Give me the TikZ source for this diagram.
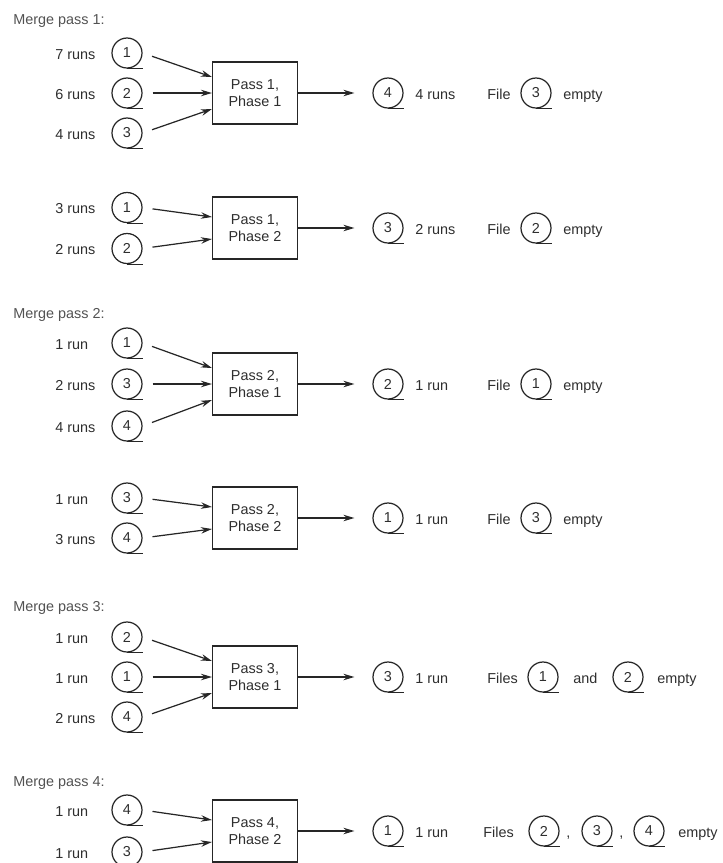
\documentclass[tikz,border=0pt]{standalone}
\usepackage{fontspec}
\setmainfont{Liberation Sans}
\usetikzlibrary{arrows.meta, positioning, calc}

\begin{document}
\begin{tikzpicture}[x=0.02cm, y=-0.02cm,
    every node/.style={font=\fontsize{8.2}{9.5}\selectfont, text=black!82},
    tape/.style={draw=black!85, circle, line width=0.7pt, minimum size=0.6cm, inner sep=0pt},
    passbox/.style={draw=black!85, line width=0.65pt, minimum width=1.7cm, minimum height=1.24cm, align=center, inner sep=0pt},
    lbl/.style={anchor=west, inner sep=0pt, text height=1.6ex, text depth=0.3ex},
    ttl/.style={lbl, text=black!68},
    feed/.style={draw=black!85, line width=0.7pt, -{Stealth[length=2.2mm, width=1.3mm]}},
    tail/.style={draw=black!85, line width=0.7pt}]
\useasboundingbox (0,0) rectangle (723,863);

% merge pass 1
\node[ttl] (mp1) at (13,18) {Merge pass 1:};
\node[passbox] (b1) at (255,93) {Pass 1,\\Phase 1};
\foreach \runs/\num/\dy/\ey [count=\i] in {7 runs/1/-40/-16, 6 runs/2/0/0, 4 runs/3/40/16} {
    \node[tape] (t1\i) at (127,93+\dy) {\num};
    \draw[tail] (t1\i.south) -- ++(16,0);
    \node[lbl] (r1\i) at (55,93+\dy) {\runs};
    \draw[feed, shorten <=0.2cm] (t1\i.east) -- ($(b1.west)+(0,\ey)$);
}

\node[passbox] (b2) at (255,228) {Pass 1,\\Phase 2};
\foreach \runs/\num/\dy/\ey [count=\i] in {3 runs/1/-20.5/-11, 2 runs/2/20.5/11} {
    \node[tape] (t2\i) at (127,228+\dy) {\num};
    \draw[tail] (t2\i.south) -- ++(16,0);
    \node[lbl] (r2\i) at (55,228+\dy) {\runs};
    \draw[feed, shorten <=0.2cm] (t2\i.east) -- ($(b2.west)+(0,\ey)$);
}

% merge pass 2
\node[ttl] (mp2) at (13,312) {Merge pass 2:};
\node[passbox] (b3) at (255,384) {Pass 2,\\Phase 1};
\foreach \runs/\num/\dy/\ey [count=\i] in {1 run/1/-41/-16, 2 runs/3/0/0, 4 runs/4/42/16} {
    \node[tape] (t3\i) at (127,384+\dy) {\num};
    \draw[tail] (t3\i.south) -- ++(16,0);
    \node[lbl] (r3\i) at (55,384+\dy) {\runs};
    \draw[feed, shorten <=0.2cm] (t3\i.east) -- ($(b3.west)+(0,\ey)$);
}

\node[passbox] (b4) at (255,518) {Pass 2,\\Phase 2};
\foreach \runs/\num/\dy/\ey [count=\i] in {1 run/3/-20/-11, 3 runs/4/20/11} {
    \node[tape] (t4\i) at (127,518+\dy) {\num};
    \draw[tail] (t4\i.south) -- ++(16,0);
    \node[lbl] (r4\i) at (55,518+\dy) {\runs};
    \draw[feed, shorten <=0.2cm] (t4\i.east) -- ($(b4.west)+(0,\ey)$);
}

% merge pass 3
\node[ttl] (mp3) at (13,605) {Merge pass 3:};
\node[passbox] (b5) at (255,677) {Pass 3,\\Phase 1};
\foreach \runs/\num/\dy/\ey [count=\i] in {1 run/2/-40/-16, 1 run/1/0/0, 2 runs/4/40/16} {
    \node[tape] (t5\i) at (127,677+\dy) {\num};
    \draw[tail] (t5\i.south) -- ++(16,0);
    \node[lbl] (r5\i) at (55,677+\dy) {\runs};
    \draw[feed, shorten <=0.2cm] (t5\i.east) -- ($(b5.west)+(0,\ey)$);
}

% merge pass 4
\node[ttl] (mp4) at (13,780) {Merge pass 4:};
\node[passbox] (b6) at (255,831) {Pass 4,\\Phase 2};
\foreach \runs/\num/\dy/\ey [count=\i] in {1 run/4/-21/-11, 1 run/3/21/11} {
    \node[tape] (t6\i) at (127,831+\dy) {\num};
    \draw[tail] (t6\i.south) -- ++(16,0);
    \node[lbl] (r6\i) at (55,831+\dy) {\runs};
    \draw[feed, shorten <=0.2cm] (t6\i.east) -- ($(b6.west)+(0,\ey)$);
}

% outputs
\foreach \g/\c/\onum/\oruns in {1/93/4/4 runs, 2/228/3/2 runs, 3/384/2/1 run, 4/518/1/1 run, 5/677/3/1 run, 6/831/1/1 run} {
    \node[tape] (o\g) at (388,\c) {\onum};
    \draw[tail] (o\g.south) -- ++(16,0);
    \draw[feed, shorten >=0.36cm] (b\g.east) -- (o\g.west);
    \node[lbl] (n\g) at (415,\c) {\oruns};
}
\foreach \g/\c/\fnum in {1/93/3, 2/228/2, 3/384/1, 4/518/3} {
    \node[lbl] (f\g) at (487,\c) {File};
    \node[tape] (e\g) at (536,\c) {\fnum};
    \draw[tail] (e\g.south) -- ++(16,0);
    \node[lbl] (x\g) at (563,\c) {empty};
}
\node[lbl] (f5) at (487,677) {Files};
\node[tape] (e51) at (543,677) {1};
\node[lbl] (and5) at (573,677) {and};
\node[tape] (e52) at (628,677) {2};
\node[lbl] (x5) at (657,677) {empty};
\node[lbl] (f6) at (483,831) {Files};
\node[tape] (e61) at (544,831) {2};
\node[lbl] (c61) at (566,831) {,};
\node[tape] (e62) at (597,831) {3};
\node[lbl] (c62) at (619,831) {,};
\node[tape] (e63) at (649,831) {4};
\node[lbl] (x6) at (678,831) {empty};
\foreach \t in {e51, e52, e61, e62, e63}
    \draw[tail] (\t.south) -- ++(16,0);
\end{tikzpicture}
\end{document}
